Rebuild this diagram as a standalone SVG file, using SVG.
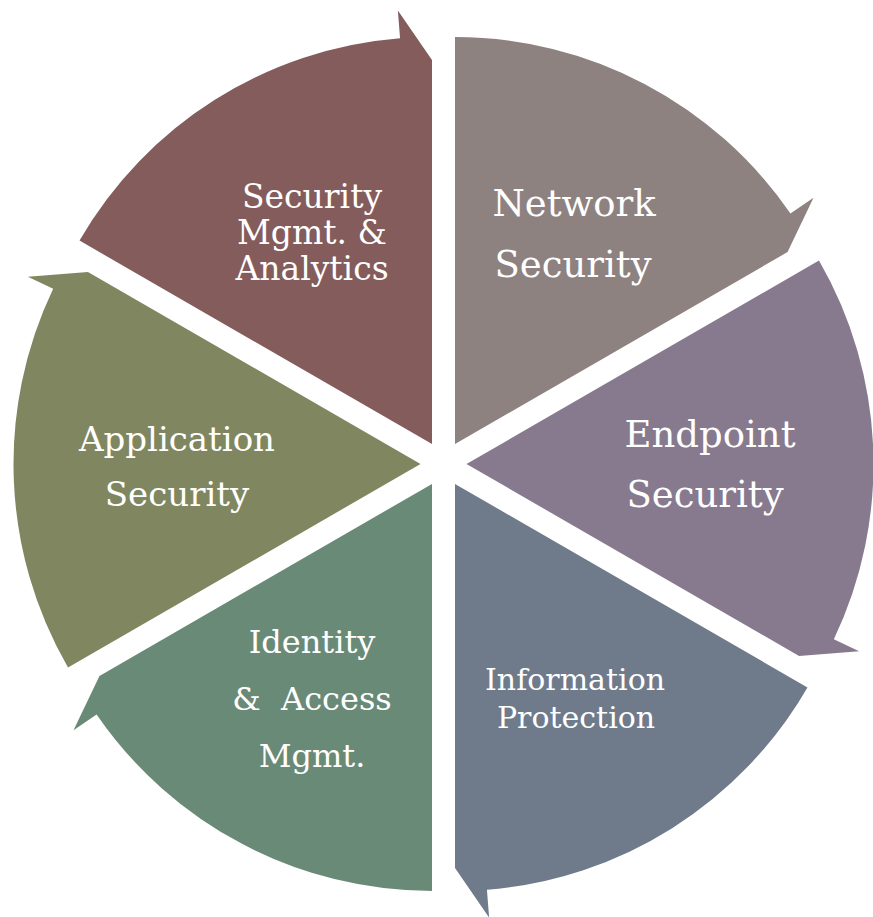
<svg xmlns="http://www.w3.org/2000/svg" width="873" height="917" viewBox="0 0 873 917">
<style>
.lbl{fill:#ffffff;font-family:"DejaVu Serif","Liberation Serif",serif;text-anchor:middle;white-space:pre}
</style>
<rect width="873" height="917" fill="#ffffff"/>
<g id="seg-mgmt">
<path d="M432,444.08 L79.52,240.58 A407,407 0 0 1 400.07,38.33 L397.87,10.42 L432,60.08 Z" fill="#845C5C"/>
<text class="lbl" font-size="33"><tspan x="312" y="208">Security</tspan><tspan x="312" y="244">Mgmt. &amp;</tspan><tspan x="312" y="280">Analytics</tspan></text>
</g>
<g id="seg-network">
<path d="M455,444.08 L455,37.08 A407,407 0 0 1 790.42,213.55 L813.5,197.69 L787.55,252.08 Z" fill="#8E8281"/>
<text class="lbl" font-size="37"><tspan x="574" y="216">Network</tspan><tspan x="573" y="277">Security</tspan></text>
</g>
<g id="seg-endpoint">
<path d="M466.5,464 L818.98,260.5 A407,407 0 0 1 833.85,639.22 L859.13,651.27 L799.05,656 Z" fill="#877A8E"/>
<text class="lbl" font-size="37"><tspan x="710" y="447">Endpoint</tspan><tspan x="705" y="507">Security</tspan></text>
</g>
<g id="seg-info">
<path d="M455,483.92 L807.48,687.42 A407,407 0 0 1 486.93,889.67 L489.13,917.58 L455,867.92 Z" fill="#6F7B8B"/>
<text class="lbl" font-size="30"><tspan x="575" y="690">Information</tspan><tspan x="576" y="728">Protection</tspan></text>
</g>
<g id="seg-identity">
<path d="M432,483.92 L432,890.92 A407,407 0 0 1 96.58,714.45 L73.5,730.31 L99.45,675.92 Z" fill="#6A8A78"/>
<text class="lbl" font-size="32"><tspan x="312" y="653">Identity</tspan><tspan x="312" y="710">&amp;  Access</tspan><tspan x="312" y="767">Mgmt.</tspan></text>
</g>
<g id="seg-application">
<path d="M420.5,464 L68.02,667.5 A407,407 0 0 1 53.15,288.78 L27.87,276.73 L87.95,272 Z" fill="#808760"/>
<text class="lbl" font-size="34"><tspan x="177" y="451">Application</tspan><tspan x="177" y="506">Security</tspan></text>
</g>
<g id="connectors"></g>
</svg>
